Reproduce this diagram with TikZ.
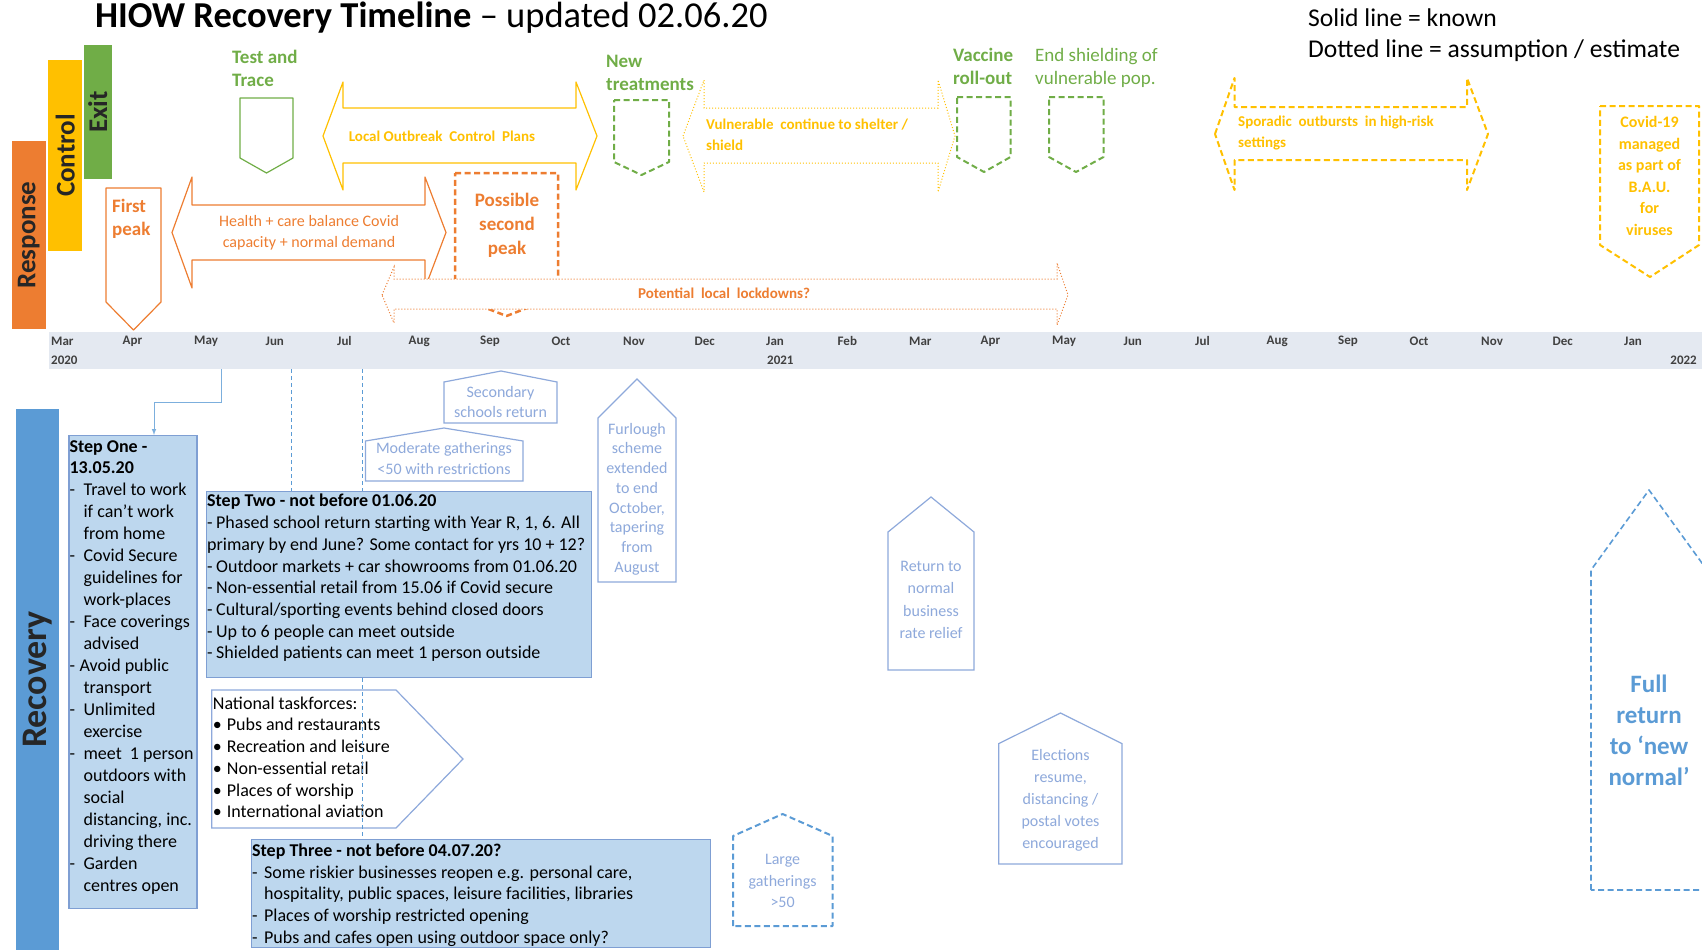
\documentclass[tikz,border=0pt]{standalone}
\usepackage{fontspec}
\setmainfont{Carlito}
\definecolor{hiorange}{HTML}{ED7D31}
\definecolor{higold}{HTML}{FFC000}
\definecolor{higreen}{HTML}{70AD47}
\definecolor{hiblue}{HTML}{5B9BD5}
\definecolor{hipale}{HTML}{BDD7EE}
\definecolor{hiedge}{HTML}{7F9FD3}
\definecolor{hiband}{HTML}{E4E9F1}
\definecolor{hitext}{HTML}{8EA9DB}
\newcommand\stepdash[1][14pt]{\makebox[#1][l]{-}}
\newcommand\stepgap[1][14pt]{\hspace*{#1}}
\newcommand\taskdot{\makebox[14pt][l]{\textbullet}}

\begin{document}
\begin{tikzpicture}[x=1pt,y=-1pt,>=latex,
    phasebar/.style={rotate=90,inner sep=0pt,text=black!85,font=\fontsize{27}{30}\selectfont\bfseries},
    month/.style={anchor=west,inner sep=0pt,text=black!75,font=\fontsize{13}{15}\selectfont\bfseries},
    milestone/.style={inner sep=0pt,align=left,font=\fontsize{19}{23}\selectfont\bfseries},
    flowtext/.style={inner sep=0pt,align=left,font=\fontsize{15}{21}\selectfont\bfseries},
    known/.style={line width=1.2pt,line join=round},
    guess/.style={line width=2pt,dash pattern=on 6pt off 3.5pt,line join=round},
    faint/.style={line width=1pt,dotted},
    stepbox/.style={draw=hiedge,fill=hipale,line width=1.2pt,inner sep=0pt},
    steptext/.style={inner xsep=1pt,inner ysep=2pt,align=left,font=\fontsize{18}{21.7}\selectfont},
    house/.style={draw=hitext,fill=white,line width=1.2pt},
    housetext/.style={inner sep=0pt,align=center,text=hitext,font=\fontsize{16}{20}\selectfont},
    guide/.style={draw=hiblue,line width=1pt,dash pattern=on 4pt off 3pt},
]
\useasboundingbox (0,0) rectangle (1702,950);
\clip (0,0) rectangle (1702,950);

% title and key
\node[anchor=base west,inner sep=0pt] (title) at (95,28)
    {\fontsize{36.5}{40}\selectfont\textbf{HIOW Recovery Timeline} – updated 02.06.20};
\node[anchor=base west,inner sep=0pt,font=\fontsize{25.6}{30}\selectfont] (solidkey) at (1308,27) {Solid line = known};
\node[anchor=base west,inner sep=0pt,font=\fontsize{25.6}{30}\selectfont] (dottedkey) at (1308,58) {Dotted line = assumption / estimate};

% phases
\node[phasebar,fill=hiorange,minimum width=188pt,minimum height=33.6pt] (response) at (28.8,235) {Response};
\node[phasebar,fill=higold,minimum width=191pt,minimum height=34.5pt] (control) at (65.2,155.5) {Control};
\node[phasebar,fill=higreen,minimum width=134.5pt,minimum height=28.4pt] (exit) at (97.8,111.8) {Exit};

% timeline
\fill[hiband] (49,332) rectangle (1702,369);
\foreach \m [count=\i from 0] in {Mar,Apr,May,Jun,Jul,Aug,Sep,Oct,Nov,Dec,Jan,Feb,Mar,Apr,May,Jun,Jul,Aug,Sep,Oct,Nov,Dec,Jan}
    \node[month] (m\i) at ({51+71.5*\i},341) {\m};
\node[month] (y2020) at (51,360) {2020};
\node[month] (y2021) at (767,360) {2021};
\node[month,anchor=east] (y2022) at (1697,360) {2022};

% green milestones
\node[milestone,text=higreen,anchor=north west] (testtrace) at (232,49.5) {Test and\\Trace};
\draw[known,draw=higreen] (240,98) -- (293,98) -- (293,158) -- (266.5,173) -- (240,158) -- cycle;
\node[milestone,text=higreen,anchor=north west] (treatments) at (606,55) {New\\treatments};
\draw[guess,draw=higreen] (614,100) -- (669,100) -- (669,162) -- (641.5,175) -- (614,162) -- cycle;
\node[milestone,text=higreen,anchor=north west] (vaccine) at (953,48) {Vaccine\\roll-out};
\draw[guess,draw=higreen] (957,97) -- (1010.5,97) -- (1010.5,157) -- (984,172) -- (957,157) -- cycle;
\node[milestone,text=higreen,anchor=north west,font=\fontsize{19}{23}\selectfont] (endshield) at (1035,48) {End shielding of\\vulnerable pop.};
\draw[guess,draw=higreen] (1049,97) -- (1103.5,97) -- (1103.5,157) -- (1076,172) -- (1049,157) -- cycle;

% gold arrows
\draw[known,draw=higold] (323,136) -- (343,82) -- (343,108) -- (576,108) -- (576,82) -- (597,136)
    -- (576,190) -- (576,163) -- (343,163) -- (343,190) -- cycle;
\node[flowtext,text=higold] (outbreak) at (442,136) {Local Outbreak\ \ Control\ \ Plans};
\draw[faint,draw=higold] (683,136) -- (704,80) -- (704,108) -- (938,108) -- (938,80) -- (955,136)
    -- (938,192) -- (938,163) -- (704,163) -- (704,192) -- cycle;
\node[flowtext,text=higold,anchor=west] (shelter) at (706,134.5) {Vulnerable\ \ continue to shelter /\\shield};
\draw[guess,draw=higold] (1215,134) -- (1234.5,78) -- (1234.5,107) -- (1467,107) -- (1467,78) -- (1488,134)
    -- (1467,190) -- (1467,160) -- (1234.5,160) -- (1234.5,190) -- cycle;
\node[flowtext,text=higold,anchor=west] (sporadic) at (1238,133.5) {Sporadic\ \ outbursts\ \ in high-risk\\settings};
\draw[guess,draw=higold] (1600,106) -- (1699,106) -- (1699,245) -- (1650,277) -- (1600,245) -- cycle;
\node[flowtext,text=higold,align=center,font=\fontsize{16}{21.6}\selectfont\bfseries] (bau) at (1649.5,176)
    {Covid-19\\managed\\as part of\\B.A.U.\\for\\viruses};

% orange
\draw[known,draw=hiorange] (106,188) -- (161,188) -- (161,302) -- (133.5,330) -- (106,302) -- cycle;
\node[milestone,text=hiorange,anchor=north west] (firstpeak) at (112,198.5) {First\\peak};
\draw[known,draw=hiorange] (172,232.5) -- (192,177) -- (192,205) -- (425,205) -- (425,177) -- (446,232.5)
    -- (425,288) -- (425,260) -- (192,260) -- (192,288) -- cycle;
\node[flowtext,text=hiorange,align=center,font=\fontsize{16}{21}\selectfont] (capacity) at (309,232.5)
    {Health + care balance Covid\\capacity + normal demand};
\draw[guess,draw=hiorange,fill=white,line width=2.5pt] (455,173) -- (558,173) -- (558,296) -- (506.5,316) -- (455,296) -- cycle;
\node[milestone,text=hiorange,align=center,font=\fontsize{19}{24}\selectfont\bfseries] (secondpeak) at (507,225) {Possible\\second\\peak};
\draw[faint,draw=hiorange,fill=white] (382,295) -- (394,267) -- (394,279) -- (1057,279) -- (1057,263) -- (1068,295)
    -- (1057,325) -- (1057,309) -- (394,309) -- (394,323) -- cycle;
\node[flowtext,text=hiorange] (lockdown) at (724,293) {Potential\ \ local\ \ lockdowns?};

% recovery
\node[phasebar,fill=hiblue,minimum width=541pt,minimum height=42.6pt,font=\fontsize{36}{40}\selectfont\bfseries] (recovery) at (37.3,679.5) {Recovery};

\node[stepbox,minimum width=128pt,minimum height=472.5pt,anchor=north west] (one) at (68.4,435) {};
\node[steptext,anchor=north west,inner ysep=5pt,font=\fontsize{18}{21.95}\selectfont] (onetext) at (one.north west) {\textbf{Step One -}\\\textbf{13.05.20}\\
    \stepdash Travel to work\\\stepgap if can’t work\\\stepgap from home\\
    \stepdash Covid Secure\\\stepgap guidelines for\\\stepgap work-places\\
    \stepdash Face coverings\\\stepgap advised\\
    \stepdash[10pt]Avoid public\\\stepgap transport\\
    \stepdash Unlimited\\\stepgap exercise\\
    \stepdash meet\ \ 1 person\\\stepgap outdoors with\\\stepgap social\\\stepgap distancing, inc.\\\stepgap driving there\\
    \stepdash Garden\\\stepgap centres open};

\node[stepbox,minimum width=384.5pt,minimum height=186.4pt,anchor=north west] (two) at (206,490.6) {};
\node[steptext,anchor=north west,inner ysep=3.5pt] (twotext) at (two.north west) {\textbf{Step Two - not before 01.06.20}\\
    \stepdash[9pt]Phased school return starting with Year R, 1, 6. All\\
    primary by end June? Some contact for yrs 10 + 12?\\
    \stepdash[9pt]Outdoor markets + car showrooms from 01.06.20\\
    \stepdash[9pt]Non-essential retail from 15.06 if Covid secure\\
    \stepdash[9pt]Cultural/sporting events behind closed doors\\
    \stepdash[9pt]Up to 6 people can meet outside\\
    \stepdash[9pt]Shielded patients can meet 1 person outside};

\node[stepbox,minimum width=459pt,minimum height=107.6pt,anchor=north west] (three) at (251,839) {};
\node[steptext,anchor=north west,inner ysep=4.5pt] (threetext) at (three.north west) {\textbf{Step Three - not before 04.07.20?}\\
    \stepdash[12pt]Some riskier businesses reopen e.g. personal care,\\
    \stepgap[12pt]hospitality, public spaces, leisure facilities, libraries\\
    \stepdash[12pt]Places of worship restricted opening\\
    \stepdash[12pt]Pubs and cafes open using outdoor space only?};

\draw[house] (211.7,690) -- (396,690) -- (463,759) -- (396,828) -- (211.7,828) -- cycle;
\node[steptext,anchor=north west,inner ysep=6.5pt] (taskforces) at (211.7,690) {National taskforces:\\
    \taskdot Pubs and restaurants\\\taskdot Recreation and leisure\\\taskdot Non-essential retail\\
    \taskdot Places of worship\\\taskdot International aviation};

% links from the timeline
\coordinate (may) at (221,369);
\coordinate (maybend) at (154,402);
\coordinate (jun) at (291,369);
\coordinate (jul) at (362,369);
\draw[draw=hiblue!80,line width=1pt,->] (may) |- (maybend) -- (maybend |- one.north);
\draw[guide] (jun) -- (jun |- two.north);
\draw[guide] (jul) -- (jul |- two.north);
\draw[guide] (jul |- two.south) -- (jul |- three.north);

% houses
\draw[house] (444,423) -- (444,382) -- (501,371) -- (557,382) -- (557,423) -- cycle;
\node[housetext,font=\fontsize{16}{20.5}\selectfont] (secondary) at (500.5,402) {Secondary\\schools return};
\draw[house] (365.5,481) -- (365.5,441) -- (444,428) -- (523,441) -- (523,481) -- cycle;
\node[housetext,font=\fontsize{16}{21}\selectfont] (moderate) at (444,458.5) {Moderate gatherings\\<50 with restrictions};
\draw[house] (598,582) -- (598,418) -- (637,379) -- (676,418) -- (676,582) -- cycle;
\node[housetext,font=\fontsize{16}{19.7}\selectfont] (furlough) at (637,499)
    {Furlough\\scheme\\extended\\to end\\October,\\tapering\\from\\August};
\draw[house] (888,670) -- (888,532) -- (931,497) -- (974,532) -- (974,670) -- cycle;
\node[housetext,font=\fontsize{16}{22.5}\selectfont] (raterelief) at (931,600) {Return to\\normal\\business\\rate relief};
\draw[house] (998.7,864) -- (998.7,743.6) -- (1060.5,713) -- (1122,743.6) -- (1122,864) -- cycle;
\node[housetext,font=\fontsize{16}{22}\selectfont] (elections) at (1060.5,800.5) {Elections\\resume,\\distancing /\\postal votes\\encouraged};
\draw[guess,draw=hiblue] (733,926) -- (733,836) -- (782.6,814) -- (832.6,836) -- (832.6,926) -- cycle;
\node[housetext,font=\fontsize{16}{21.5}\selectfont] (large) at (782.6,881) {Large\\gatherings\\>50};
\draw[guess,draw=hiblue,line width=1.6pt] (1591,890) -- (1591,570) -- (1649,490) -- (1707,570) -- (1707,890) -- cycle;
\node[housetext,text=hiblue,font=\fontsize{25}{31}\selectfont\bfseries] (newnormal) at (1649,730.5) {Full\\return\\to ‘new\\normal’};
\end{tikzpicture}
\end{document}
